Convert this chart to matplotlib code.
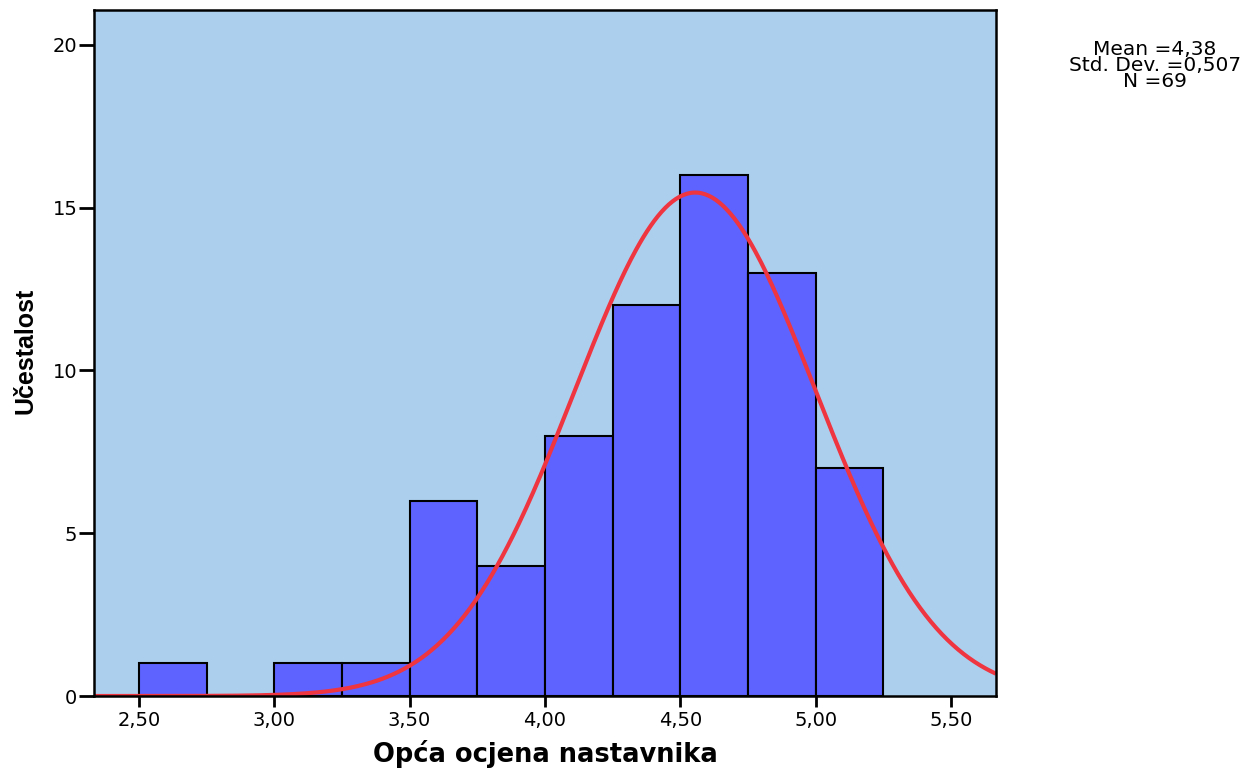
import numpy as np
import matplotlib
matplotlib.use("Agg")
import matplotlib.pyplot as plt

# histogram bins (lower edges) and frequencies
bin_edges = [2.50, 2.75, 3.00, 3.25, 3.50, 3.75, 4.00, 4.25, 4.50, 4.75, 5.00, 5.25]
counts = [1, 0, 1, 1, 6, 4, 8, 12, 16, 13, 7]

# normal curve as drawn in the picture
curve_mu = 4.555
curve_sigma = 0.445
n_total = 69

xticks = [2.5, 3.0, 3.5, 4.0, 4.5, 5.0, 5.5]
xtick_labels = ["2,50", "3,00", "3,50", "4,00", "4,50", "5,00", "5,50"]
yticks = [0, 5, 10, 15, 20]

stats_text = "Mean =4,38\nStd. Dev. =0,507\nN =69"

plt.rcParams['font.family'] = ['DejaVu Sans']

fig = plt.figure(figsize=(12.58, 7.69), dpi=100)
ax = fig.add_axes([0.0747, 0.0949, 0.717, 0.892])
ax.set_facecolor("#ADCFEE")

widths = np.diff(bin_edges)
ax.bar(bin_edges[:-1], counts, width=widths, align="edge",
       color="#5E63FF", edgecolor="black", linewidth=1.5, zorder=2)

xs = np.linspace(2.334, 5.666, 500)
bw = 0.25
ys = n_total * bw / (curve_sigma * np.sqrt(2 * np.pi)) * np.exp(-0.5 * ((xs - curve_mu) / curve_sigma) ** 2)
ax.plot(xs, ys, color="#EE3540", linewidth=3, zorder=3, solid_capstyle="butt")

ax.set_xlim(2.334, 5.666)
ax.set_ylim(0, 21.07)
ax.set_xticks(xticks)
ax.set_xticklabels(xtick_labels)
ax.set_yticks(yticks)
ax.tick_params(axis="both", direction="out", width=2, labelsize=14)
ax.tick_params(axis="x", length=8, pad=3)
ax.tick_params(axis="y", length=11, pad=1)
for s in ax.spines.values():
    s.set_linewidth(1.8)
    s.set_zorder(4)

fig.text(545 / 1258, 1 - 754 / 769, "Opća ocjena nastavnika", ha="center", va="center",
         fontsize=18.5, fontweight="bold")
fig.text(25 / 1258, 1 - 351 / 769, "Učestalost", ha="center", va="center", rotation=90,
         fontsize=18, fontweight="bold",
         family=['Liberation Sans Narrow', 'Liberation Sans', 'DejaVu Sans'])

fig.text(1155 / 1258, 1 - 40 / 769, stats_text, ha="center", va="top", fontsize=14.5, linespacing=0.8)

fig.savefig("out.png", dpi=100)
